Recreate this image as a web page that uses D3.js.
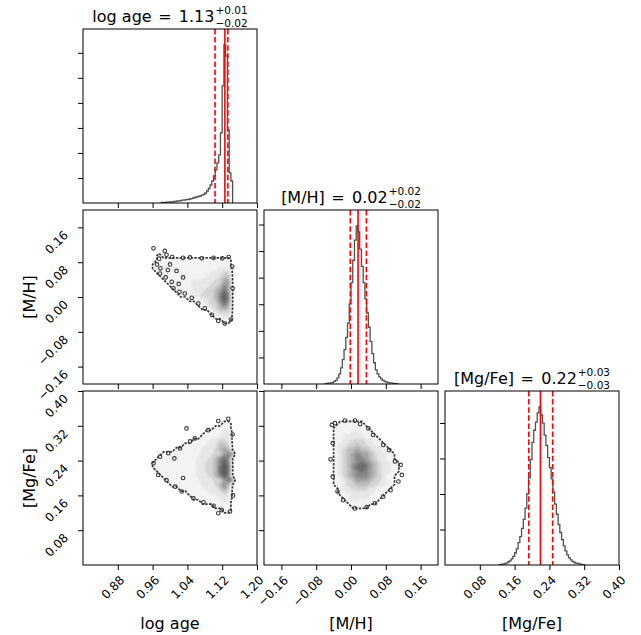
<!DOCTYPE html>
<html>
<head>
<meta charset="utf-8">
<script src="https://cdn.jsdelivr.net/npm/d3@7"></script>
<style>
  body { margin: 0; background: #fff; }
  svg { display: block; font-family: "DejaVu Sans", sans-serif; }
</style>
</head>
<body>
<svg id="corner" width="641" height="635"></svg>
<script>
// ---- parameters ----
const paramNames = ["log age", "[M/H]", "[Mg/Fe]"];
const paramRanges = [[0.8, 1.2], [-0.2, 0.2], [0.0, 0.4]];
const paramTicks = [
  [0.88, 0.96, 1.04, 1.12, 1.20],
  [-0.16, -0.08, 0.00, 0.08, 0.16],
  [0.08, 0.16, 0.24, 0.32, 0.40]
];
// 16th, 50th, 84th percentiles
const quantAge = [1.1035, 1.1262, 1.1330];
const quantMH = [-0.0016, 0.0162, 0.0354];
const quantMgFe = [0.1927, 0.2194, 0.2475];

// ---- 1D marginal histograms (first bin edge, bin width, counts) ----
const histAgeStart = 0.980;
const histMHStart = -0.060;
const histMgFeStart = 0.124;
const histBinWidth = 0.004;
const histAge = [10, 10, 14, 16, 20, 20, 24, 30, 34, 40, 44, 50, 56, 60, 66, 70, 80, 86, 100, 110,
  120, 130, 140, 156, 170, 200, 240, 290, 360, 440, 540, 660, 800, 960, 1400, 2340, 3160, 2940, 1460, 600, 440];
const histMH = [2, 4, 6, 8, 11, 19, 27, 46, 76, 122, 183, 259, 351, 458, 603, 763, 931, 1083, 1190, 1145,
  1015, 885, 763, 641, 534, 427, 320, 229, 160, 107, 76, 53, 38, 27, 19, 15, 11, 8, 6, 5, 3, 2];
const histMgFe = [2, 3, 5, 7, 11, 17, 23, 34, 49, 69, 91, 126, 160, 206, 257, 320, 400, 491, 594, 691,
  759, 805, 857, 891, 845, 799, 731, 674, 605, 548, 485, 411, 343, 286, 228, 183, 143, 108, 80, 57,
  40, 29, 20, 14, 11, 9, 6, 3, 2];
const histAgeTicks = [500, 1000, 1500, 2000, 2500, 3000];
const histMHTicks = [200, 400, 600, 800, 1000, 1200];
const histMgFeTicks = [200, 400, 600, 800];

// ---- 2D sample densities: digit grids (0 = empty), 0.01 cells, origin = [left edge, top edge] ----
const densStep = 0.01;
const densAgeMHOrigin = [0.95, 0.11];
const densAgeMH = [
  "00000000000000000000",
  "00100000000000000000",
  "00111111111111111110",
  "01111111111111111110",
  "01111111111111112220",
  "00111111111111222330",
  "00011111111112223440",
  "00001111112222233550",
  "00000111112222334650",
  "00000011112223345750",
  "00000001112233346860",
  "00000000011122346860",
  "00000000000112335750",
  "00000000000011234540",
  "00000000000000123330",
  "00000000000000011220",
  "00000000000000000110",
  "00000000000000000000"
];
const densAgeMgFeOrigin = [0.95, 0.35];
const densAgeMgFe = [
  "00000000000000000000",
  "00000000000000000000",
  "00000000000000000110",
  "00000000000000011110",
  "00000000000001111220",
  "00000000000011112220",
  "00000000001111223320",
  "00000000111112224430",
  "00000011111122234540",
  "00011111111122233565",
  "00111111111222346760",
  "01111111111223346860",
  "01111111111223347870",
  "00111111111223347870",
  "00011111111222346860",
  "00001111111122233575",
  "00000111111122234640",
  "00000001111112223530",
  "00000000011111222320",
  "00000000001111112220",
  "00000000000011111210",
  "00000000000000011110",
  "00000000000000000110",
  "00000000000000000000"
];
const densMHMgFeOrigin = [-0.06, 0.35];
const densMHMgFe = [
  "000000000000000000",
  "000000000000000000",
  "000111111000000000",
  "001111111100000000",
  "001111221110000000",
  "001122222111000000",
  "001122333221100000",
  "001223343322110000",
  "001234454432211000",
  "001234565543221100",
  "001234566543221100",
  "001234567654322110",
  "001234677754322110",
  "001234567654322110",
  "001234566654321100",
  "001123455543321100",
  "001123344433221100",
  "000122333322111000",
  "000112222221110000",
  "000011222211100000",
  "000001111111000000",
  "000000111100000000",
  "000000000000000000"
];

// ---- isolated samples outside the lowest density level ----
const ptsAgeMH = [
  [0.962, 0.112], [0.988, 0.106], [0.992, 0.097], [0.975, 0.088], [0.970, 0.075], [0.978, 0.066],
  [0.977, 0.054], [0.990, 0.045], [1.004, 0.035], [1.008, 0.020], [1.022, 0.012], [1.034, 0.008],
  [1.050, -0.002], [1.065, -0.015], [1.080, -0.026], [1.096, -0.041], [1.111, -0.055], [1.126, -0.061],
  [1.140, -0.052], [1.144, 0.020], [1.143, 0.070], [1.135, 0.092], [1.005, 0.092], [1.030, 0.090],
  [1.046, 0.091], [1.073, 0.089], [1.100, 0.090], [1.120, 0.089], [1.000, 0.075], [1.015, 0.060],
  [0.995, 0.062], [1.030, 0.045], [1.020, 0.030]
];
const ptsAgeMgFe = [
  [1.038, 0.314], [1.111, 0.331], [1.134, 0.336], [1.088, 0.310], [1.057, 0.291], [1.046, 0.284],
  [1.023, 0.268], [0.996, 0.257], [0.977, 0.249], [0.962, 0.234], [0.973, 0.207], [0.992, 0.195],
  [1.012, 0.180], [1.027, 0.169], [1.054, 0.153], [1.077, 0.144], [1.100, 0.136], [1.119, 0.126],
  [1.111, 0.119], [1.138, 0.123], [1.144, 0.300], [1.145, 0.160], [1.010, 0.245], [1.030, 0.200]
];
const ptsMHMgFe = [
  [-0.044, 0.322], [-0.037, 0.326], [-0.014, 0.332], [0.009, 0.332], [0.021, 0.324], [0.040, 0.314],
  [0.051, 0.299], [0.074, 0.276], [0.088, 0.264], [0.101, 0.238], [0.114, 0.230], [0.117, 0.207],
  [0.109, 0.192], [0.091, 0.172], [0.074, 0.157], [0.055, 0.142], [0.036, 0.133], [0.009, 0.130],
  [-0.018, 0.149], [-0.031, 0.169], [-0.042, 0.203], [-0.047, 0.243], [-0.042, 0.280]
];

// ---- layout ----
const svg = d3.select("#corner");
const colX = [83, 264, 445];
const rowY = [29, 210, 391];
const size = 174;
const fmt = d3.format(".2f");
const shades = ["#f3f3f3", "#e7e7e7", "#d4d4d4", "#bcbcbc", "#a2a2a2", "#878787", "#6e6e6e", "#5a5a5a"];
const levels = [0.5, 1.5, 2.5, 3.5, 4.5, 5.5, 6.5, 7.5];

function xScaleFor(p, col) {
  return d3.scaleLinear().domain(paramRanges[p]).range([colX[col], colX[col] + size]);
}
function yScaleFor(p, row) {
  return d3.scaleLinear().domain(paramRanges[p]).range([rowY[row] + size, rowY[row]]);
}

const defs = svg.append("defs");
defs.append("filter").attr("id", "soften")
  .attr("x", "-10%").attr("y", "-10%").attr("width", "120%").attr("height", "120%")
  .append("feGaussianBlur").attr("stdDeviation", 1.3);

function clipFor(id, col, row) {
  defs.append("clipPath").attr("id", id).append("rect")
    .attr("x", colX[col]).attr("y", rowY[row]).attr("width", size).attr("height", size);
  return "url(#" + id + ")";
}

function styleAxis(g) {
  g.select(".domain").remove();
  g.selectAll(".tick line").attr("stroke", "#000").attr("stroke-width", 1);
  g.selectAll(".tick text").attr("fill", "#000").style("font-size", "12px")
    .style("font-family", '"DejaVu Sans", sans-serif');
}

function bottomAxis(scale, ticks, y, labelled) {
  const g = svg.append("g").attr("transform", `translate(0,${y})`)
    .call(d3.axisBottom(scale).tickValues(ticks).tickSize(5)
      .tickFormat(labelled ? fmt : () => ""));
  styleAxis(g);
  if (labelled) {
    g.selectAll(".tick text")
      .attr("x", 0).attr("y", 0).attr("dy", "0.35em")
      .attr("text-anchor", "end")
      .attr("transform", "translate(4,13) rotate(-45)");
  }
}

function leftAxis(scale, ticks, x, labelled) {
  const g = svg.append("g").attr("transform", `translate(${x},0)`)
    .call(d3.axisLeft(scale).tickValues(ticks).tickSize(5)
      .tickFormat(labelled ? fmt : () => ""));
  styleAxis(g);
  if (labelled) {
    g.selectAll(".tick text")
      .attr("x", 0).attr("y", 0).attr("dy", "0.35em")
      .attr("text-anchor", "end")
      .attr("transform", "translate(-17,5) rotate(-45)");
  }
}

function frame(col, row) {
  svg.append("rect").attr("x", colX[col]).attr("y", rowY[row])
    .attr("width", size).attr("height", size)
    .attr("fill", "none").attr("stroke", "#000").attr("stroke-width", 1);
}

// ---- diagonal: marginal histograms ----
const diag = [
  { counts: histAge, start: histAgeStart, ticks: histAgeTicks, q: quantAge },
  { counts: histMH, start: histMHStart, ticks: histMHTicks, q: quantMH },
  { counts: histMgFe, start: histMgFeStart, ticks: histMgFeTicks, q: quantMgFe }
];

diag.forEach((h, i) => {
  const x = xScaleFor(i, i);
  const y = d3.scaleLinear().domain([0, 1.1 * d3.max(h.counts)]).range([rowY[i] + size, rowY[i]]);
  const clip = clipFor("clip-d" + i, i, i);
  const g = svg.append("g").attr("clip-path", clip);

  // step outline of the histogram
  const pts = [[h.start, 0]];
  h.counts.forEach((c, k) => {
    const lo = h.start + k * histBinWidth;
    pts.push([lo, c], [lo + histBinWidth, c]);
  });
  pts.push([h.start + h.counts.length * histBinWidth, 0]);
  g.append("path")
    .attr("d", d3.line().x(d => x(d[0])).y(d => y(d[1]))(pts))
    .attr("fill", "none").attr("stroke", "#505050").attr("stroke-width", 1.3);

  // percentile markers
  h.q.forEach((v, k) => {
    g.append("line")
      .attr("x1", x(v)).attr("x2", x(v))
      .attr("y1", rowY[i]).attr("y2", rowY[i] + size)
      .attr("stroke", "#ff0000").attr("stroke-width", 1.6)
      .attr("stroke-dasharray", k === 1 ? null : "5.5,2.6");
  });

  frame(i, i);
  bottomAxis(x, paramTicks[i], rowY[i] + size, i === 2);
  leftAxis(y, h.ticks, colX[i], false);

  // title: name = median with +upper / -lower errors stacked
  const med = h.q[1], up = h.q[2] - h.q[1], lo = h.q[1] - h.q[0];
  const tg = svg.append("g");
  const base = rowY[i] - 7;
  const main = tg.append("text").attr("x", 0).attr("y", base)
    .style("font-size", "16px").attr("fill", "#000");
  main.append("tspan").text(paramNames[i]);
  main.append("tspan").attr("dx", 6.5).text("=");
  main.append("tspan").attr("dx", 7.3).text(fmt(med));
  const w = main.node().getComputedTextLength() + 13.8;
  const sup = tg.append("text").attr("x", w + 1).attr("y", base - 8.5)
    .style("font-size", "10.5px").attr("fill", "#000").text("+" + fmt(up));
  const sub = tg.append("text").attr("x", w + 1).attr("y", base + 4.5)
    .style("font-size", "10.5px").attr("fill", "#000").text("\u2212" + fmt(lo));
  const total = w + 1 + Math.max(sup.node().getComputedTextLength(), sub.node().getComputedTextLength());
  tg.attr("transform", `translate(${colX[i] + size / 2 - total / 2},0)`);
});

// ---- off-diagonal: 2D sample densities ----
const pairs = [
  { px: 0, py: 1, col: 0, row: 1, grid: densAgeMH, origin: densAgeMHOrigin, pts: ptsAgeMH },
  { px: 0, py: 2, col: 0, row: 2, grid: densAgeMgFe, origin: densAgeMgFeOrigin, pts: ptsAgeMgFe },
  { px: 1, py: 2, col: 1, row: 2, grid: densMHMgFe, origin: densMHMgFeOrigin, pts: ptsMHMgFe }
];

pairs.forEach((p, idx) => {
  const x = xScaleFor(p.px, p.col);
  const y = yScaleFor(p.py, p.row);
  const clip = clipFor("clip-p" + idx, p.col, p.row);
  const g = svg.append("g").attr("clip-path", clip);

  const ny = p.grid.length, nx = p.grid[0].length;
  const values = [];
  p.grid.forEach(r => { for (const ch of r) values.push(+ch); });
  const bands = d3.contours().size([nx, ny]).thresholds(levels)(values);
  const proj = d3.geoTransform({
    point(u, v) {
      this.stream.point(x(p.origin[0] + u * densStep), y(p.origin[1] - v * densStep));
    }
  });
  const path = d3.geoPath(proj);

  g.append("g").attr("filter", "url(#soften)")
    .selectAll("path").data(bands).join("path")
    .attr("d", path)
    .attr("fill", (d, k) => shades[k])
    .attr("stroke", "none");

  // grainy rim of sparse samples around the lowest level
  g.append("path").datum(bands[0])
    .attr("d", path)
    .attr("fill", "none").attr("stroke", "#383838")
    .attr("stroke-width", 1.7).attr("stroke-dasharray", "2.4,1.3");

  g.selectAll("circle").data(p.pts).join("circle")
    .attr("cx", d => x(d[0])).attr("cy", d => y(d[1])).attr("r", 1.8)
    .attr("fill", "none").attr("stroke", "#383838").attr("stroke-width", 1.1);

  frame(p.col, p.row);
  bottomAxis(x, paramTicks[p.px], rowY[p.row] + size, p.row === 2);
  leftAxis(y, paramTicks[p.py], colX[p.col], p.col === 0);
});

// ---- axis labels ----
paramNames.forEach((name, i) => {
  svg.append("text")
    .attr("x", colX[i] + size / 2).attr("y", 629)
    .attr("text-anchor", "middle").style("font-size", "16px").attr("fill", "#000")
    .text(name);
});
[1, 2].forEach(i => {
  svg.append("text")
    .attr("transform", `translate(35,${rowY[i] + size / 2}) rotate(-90)`)
    .attr("text-anchor", "middle").style("font-size", "16px").attr("fill", "#000")
    .text(paramNames[i]);
});
</script>
</body>
</html>
